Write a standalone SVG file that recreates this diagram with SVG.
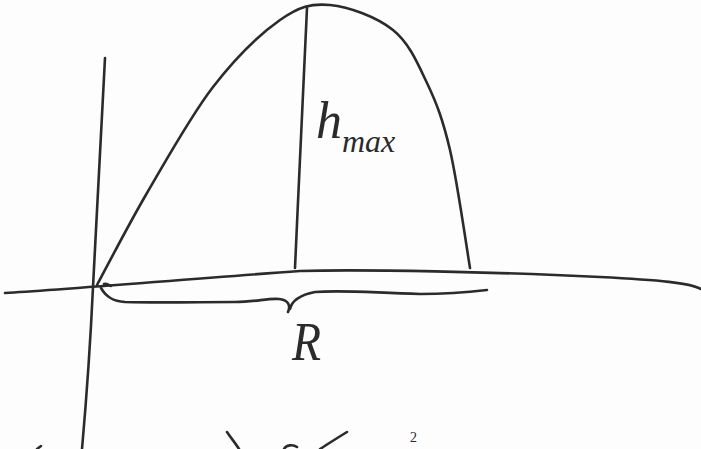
<svg xmlns="http://www.w3.org/2000/svg" width="701" height="449" viewBox="0 0 701 449">
  <style>
    .ink { fill: none; stroke: #2b2b2b; stroke-width: 2.6; stroke-linecap: round; stroke-linejoin: round; }
    .hand { font-family: "Liberation Serif", "DejaVu Serif", serif; font-style: italic; fill: #2b2b2b; }
  </style>
  <rect width="701" height="449" fill="#fdfdfd"/>
  <g id="axes">
    <path class="ink" d="M105,58 C100,140 96,220 93,287 C91,330 89,370 82,449"/>
    <path class="ink" d="M5,293 C60,290 200,278 300,271 C360,269 500,272 600,277 C660,280 690,283 701,289"/>
  </g>
  <g id="trajectory">
    <path class="ink" d="M97,285 C105.3,269.7 127.7,226 147,193 C166.3,160 190.8,115.8 213,87 C235.2,58.2 260.5,33.7 280,20 C299.5,6.3 311.2,3.3 330,5 C348.8,6.7 376.8,17 393,30 C409.2,43 417.5,63 427,83 C436.5,103 442.8,119.2 450,150 C457.2,180.8 466.7,248.3 470,268"/>
  </g>
  <g id="hmax-line">
    <path class="ink" d="M307,8 C303,90 299,180 295,268"/>
  </g>
  <g id="range-brace">
    <path class="ink" d="M104,284 C107,283 109,285 111,286"/>
    <path class="ink" d="M101,288 C106,297 113,301 125,302 C160,303 200,302 235,302 C255,302 268,298 279,299 C288,300 291,305 288,312"/>
    <path class="ink" d="M290,309 C292,300 300,295 315,292 C340,290 360,292 420,294 C450,294 470,292 487,290"/>
  </g>
  <g id="label-hmax">
    <text class="hand" x="316" y="138" font-size="52">h<tspan font-size="32" dy="14">max</tspan></text>
  </g>
  <g id="label-R">
    <text class="hand" x="0" y="0" font-size="56" transform="translate(292,360) scale(0.85,1)">R</text>
  </g>
  <g id="cropped-bottom">
    <path class="ink" d="M37,449 L41,446"/>
    <path class="ink" d="M227,432 C231,438 236,444 239,449"/>
    <path class="ink" d="M284,449 C286,445 293,444 297,447"/>
    <path class="ink" d="M347,432 C337,438 328,444 320,449"/>
    <text class="hand" x="410" y="442" font-size="14" style="font-style:normal">2</text>
  </g>
</svg>
